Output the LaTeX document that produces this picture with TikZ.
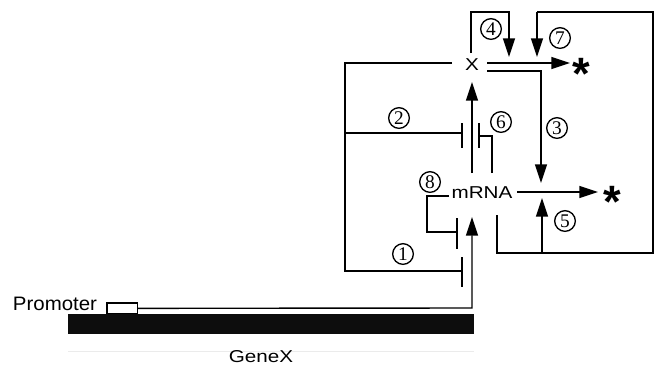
\documentclass[tikz,border=0pt]{standalone}
\usepackage{fontspec}
\setmainfont{Liberation Sans}
\newfontfamily\widefont[FakeStretch=1.2]{Liberation Sans}
\newfontfamily\promfont[FakeStretch=1.05]{Liberation Sans}
\newfontfamily\numfont{Liberation Serif}
\newfontfamily\starfont{Liberation Sans}
\usetikzlibrary{arrows.meta,calc}
\begin{document}
\begin{tikzpicture}[x=0.75pt,y=-0.75pt,
  every node/.style={inner sep=0pt,outer sep=0pt},
  wire/.style={line width=1.05pt,line join=miter},
  act/.style={wire,-{Triangle[length=14pt,width=9pt]}},
  inh/.style={wire},
  bar/.style={line width=1.5pt},
  lbl/.style={font=\widefont\fontsize{12.9}{12.9}\selectfont},
  plbl/.style={font=\promfont\fontsize{14.6}{14.6}\selectfont},
  circ/.style={draw,circle,line width=1pt,minimum size=15.5pt,font=\numfont\fontsize{14.5}{14.5}\selectfont},
  star/.style={font=\starfont\bfseries\fontsize{34}{34}\selectfont}]
\useasboundingbox (0,0) rectangle (654,369);
% gene
\fill[black!95] (68,314) rectangle (474,334);
\draw[line width=0.6pt,black!8] (68,351) -- (474,351);
\node[draw,line width=0.8pt,fill=white,minimum width=23pt,minimum height=8pt,anchor=north west] (prom) at (107,303) {};
\node[plbl] (promlbl) at (55,304) {Promoter};
\node[lbl] (genex) at (261,357) {GeneX};
% species
\node[lbl] (X) at (472,65) {X};
\node[lbl] (mrna) at (482,193) {mRNA};
% stars
\node[star] (s1) at (581,74) {*};
\node[star] (s2) at (612,202) {*};
% coordinates
\coordinate (pr) at (prom.east);
\coordinate (tc) at (472,308);
\coordinate (mtop) at (472,173);
\coordinate (mbot) at (472,217);
\coordinate (xbot) at (472,82);
\coordinate (xl) at (452,63);
\coordinate (lc1) at (345,63);
\coordinate (lc2) at (345,271);
\coordinate (lc3) at (345,133);
\coordinate (b1) at (462,271);
\coordinate (b2) at (462,133);
\coordinate (m6) at (492,173);
\coordinate (c6) at (492,136);
\coordinate (b6) at (479,136);
\coordinate (m8) at (449,196);
\coordinate (c8a) at (427,196);
\coordinate (c8b) at (427,232);
\coordinate (b8) at (457,232);
\coordinate (xr1) at (487,63);
\coordinate (xr2) at (487,71);
\coordinate (c3) at (541,71);
\coordinate (t3) at (541,183);
\coordinate (xt) at (471,53);
\coordinate (c4a) at (471,12);
\coordinate (c4b) at (509,12);
\coordinate (t4) at (509,57);
\coordinate (t1) at (570,63);
\coordinate (mr) at (517,192);
\coordinate (t2) at (598,192);
\coordinate (m5) at (497,215);
\coordinate (c5) at (497,253);
\coordinate (r1) at (653,253);
\coordinate (r2) at (653,12);
\coordinate (c7) at (537,12);
\coordinate (t7) at (537,57);
\coordinate (b5) at (542,253);
\coordinate (t5) at (542,198);
% transcription
\draw[act] (pr) -- (tc) -- (mbot);
% translation
\draw[act] (mtop) -- (xbot);
% 1 and 2: X represses
\draw[inh] (xl) -- (lc1) -- (lc2) -- (b1);
\draw[bar] ($(b1)+(0,-14)$) -- ($(b1)+(0,16)$);
\draw[inh] (lc3) -- (b2);
\draw[bar] ($(b2)+(0,-10)$) -- ($(b2)+(0,15)$);
% 6
\draw[inh] (m6) -- (c6) -- (b6);
\draw[bar] ($(b6)+(0,-13)$) -- ($(b6)+(0,12)$);
% 8
\draw[inh] (m8) -- (c8a) -- (c8b) -- (b8);
\draw[bar] ($(b8)+(0,-14)$) -- ($(b8)+(0,17)$);
% X degradation
\draw[act] (xr1) -- (t1);
\draw[act] (xr2) -- (c3) -- (t3);
\draw[act] (xt) -- (c4a) -- (c4b) -- (t4);
% mRNA degradation
\draw[act] (mr) -- (t2);
\draw[wire] (m5) -- (c5) -- (r1) -- (r2) -- (c7);
\draw[act] (c7) -- (t7);
\draw[act] (b5) -- (t5);
% circled labels
\node[circ] (n1) at (403,254) {1};
\node[circ] (n2) at (399,118) {2};
\node[circ] (n3) at (557,128) {3};
\node[circ] (n4) at (491,29) {4};
\node[circ] (n5) at (565,221) {5};
\node[circ] (n6) at (501,122) {6};
\node[circ] (n7) at (560,38) {7};
\node[circ] (n8) at (430,182) {8};
\end{tikzpicture}
\end{document}
